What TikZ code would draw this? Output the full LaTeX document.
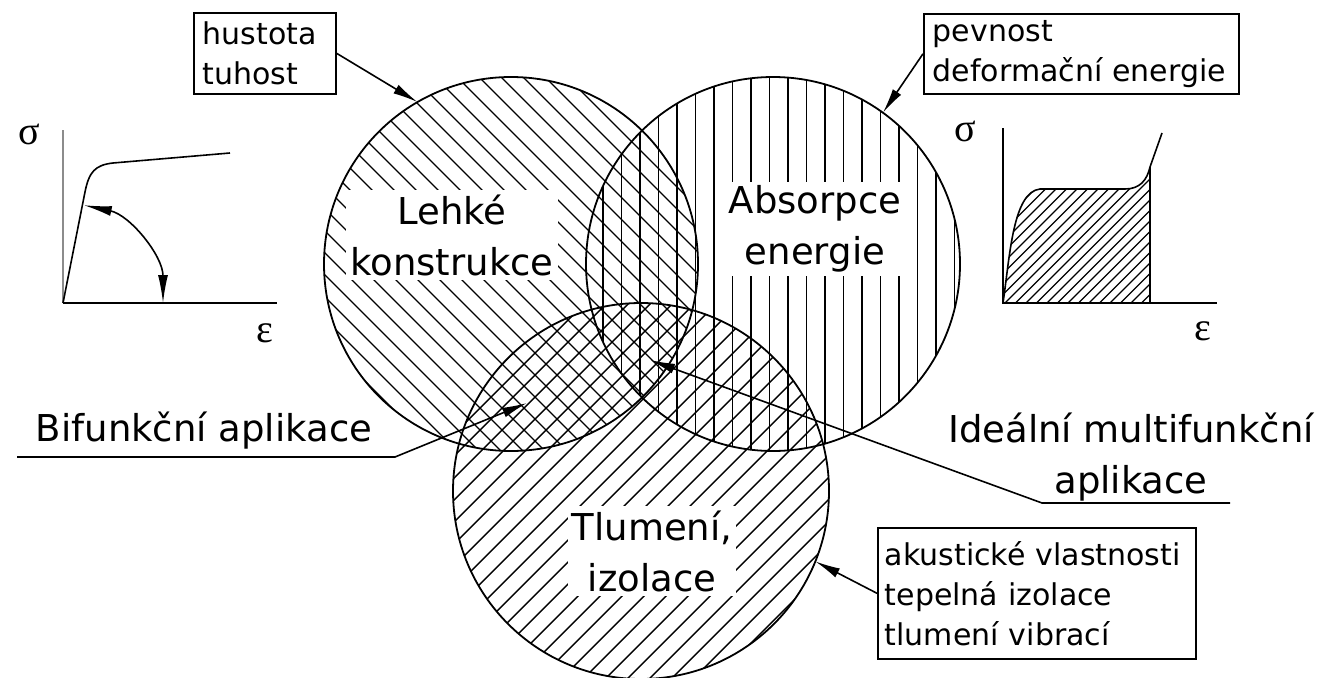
\documentclass[tikz,border=0pt]{standalone}
\usepackage{fontspec}
\setmainfont{DejaVu Sans}
\newfontfamily\greekf{Liberation Serif}
\usetikzlibrary{arrows.meta}
\begin{document}
\begin{tikzpicture}[x=1pt,y=-1pt,
  hatch/.style={line width=1.4pt},
  thinhatch/.style={line width=1.1pt},
  ring/.style={draw, circle, line width=1.8pt, inner sep=0pt, outer sep=0pt},
  bigtext/.style={font=\fontsize{37}{51}\selectfont, align=center, inner sep=4pt},
  sbox/.style={draw, line width=1.6pt, font=\fontsize{30}{40}\selectfont, align=left, inner xsep=9pt, inner ysep=0pt, anchor=north west},
  arr/.style={line width=1.6pt, -{Latex[length=25pt,width=10pt]}},
  axisline/.style={line width=1.6pt},
  greek/.style={font=\greekf\fontsize{40}{44}\selectfont, inner sep=0pt}]
\useasboundingbox (0,0) rectangle (1332,677);
\fill[white] (0,0) rectangle (1332,677);

% ---- hatching of the three circles
\begin{scope}
  \clip (511,264) circle[radius=187];
  \foreach \c in {-16,6,...,512} \draw[hatch] (\c+60,60) -- (\c+470,470);
\end{scope}
\begin{scope}
  \clip (773,264) circle[radius=187];
  \foreach \x in {584.5,603,...,975} \draw[hatch] (\x,70) -- (\x,460);
\end{scope}
\begin{scope}
  \clip (641,491) circle[radius=188];
  \foreach \c in {866,888,...,1400} \draw[hatch] (\c-300,300) -- (\c-690,690);
\end{scope}

% ---- circles
\node[ring, minimum size=374pt] (L) at (511,264) {};
\node[ring, minimum size=374pt] (R) at (773,264) {};
\node[ring, minimum size=376pt] (B) at (641,491) {};

% ---- circle labels
\node[bigtext, fill=white] (lt) at (452,235) {Lehké\\konstrukce};
\node[bigtext, fill=white] (at) at (815,229) {Absorpce\\energie};
\node[bigtext, fill=white] (tt) at (652,551) {Tlumení,\\izolace};

% ---- side labels
\node[bigtext] (bif) at (204,431) {Bifunkční aplikace};
\node[bigtext] (ide) at (1131,457) {Ideální multifunkční\\aplikace};
\coordinate (bu1) at (17,457);
\coordinate (bu2) at (395,457);
\coordinate (bt) at (527,403);
\draw[arr] (bu1) -- (bu2) -- (bt);
\coordinate (iu1) at (1230,503);
\coordinate (iu2) at (1042,503);
\coordinate (it) at (650,360);
\draw[arr] (iu1) -- (iu2) -- (it);

% ---- boxes
\node[sbox, text width=124pt, minimum height=81pt] (hb) at (193,12) {hustota\\tuhost};
\node[sbox, text width=297pt, minimum height=80pt] (pb) at (923,13) {pevnost\\deformační energie};
\node[sbox, inner xsep=7pt, text width=304pt, minimum height=131pt] (bb) at (877,527) {akustické vlastnosti\\tepelná izolace\\tlumení vibrací};
\draw[arr] (hb.east) -- (L.120);
\draw[arr] (pb.west) -- (R.54);
\draw[arr] (bb.west) -- (B.-22);

% ---- left stress-strain graph
\draw[axisline, black!45] (63,130) -- (63,303);
\draw[axisline] (63,303) -- (277,303);
\draw[axisline] (63,303) -- (85,192) .. controls (89,172) and (95,165) .. (113,163) -- (230,153);
\draw[line width=1.6pt, {Latex[length=28pt,width=10pt]}-{Latex[length=28pt,width=10pt]}]
  (63,303) ++(-78:100) arc[start angle=-78, end angle=0, radius=100];
\node[greek] (s1) at (29,134) {σ};
\node[greek] (e1) at (265,333) {ε};

% ---- right stress-strain graph
\begin{scope}
  \clip (1003,303) .. controls (1010,255) and (1013,192) .. (1040,189) -- (1125,189)
        .. controls (1140,189) and (1147,180) .. (1150,167) -- (1150,303) -- cycle;
  \foreach \c in {1140,1150.5,...,1460} \draw[thinhatch] (\c-120,120) -- (\c-310,310);
\end{scope}
\draw[axisline] (1003,128) -- (1003,303) -- (1217,303);
\draw[axisline] (1003,303) .. controls (1010,255) and (1013,192) .. (1040,189) -- (1125,189)
        .. controls (1140,189) and (1147,180) .. (1150,167) -- (1162,133);
\draw[axisline] (1150,167) -- (1150,303);
\node[greek] (s2) at (965,131) {σ};
\node[greek] (e2) at (1203,331) {ε};
\end{tikzpicture}
\end{document}
